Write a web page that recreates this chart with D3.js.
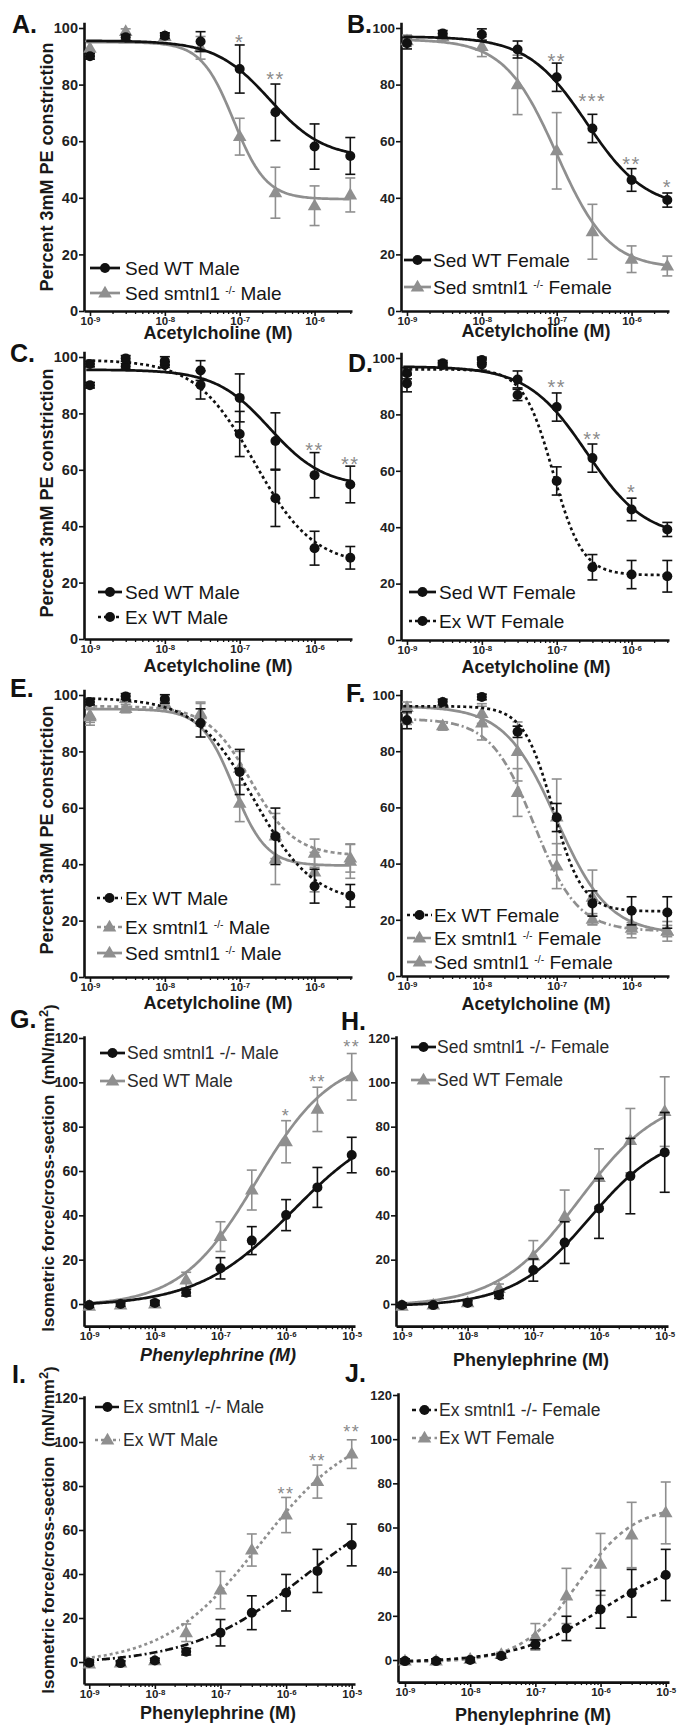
<!DOCTYPE html>
<html>
<head>
<meta charset="utf-8">
<script src="https://cdn.jsdelivr.net/npm/d3@7"></script>
<style>
  body { margin: 0; background: #fff; }
  svg { display: block; font-family: "Liberation Sans", Arial, sans-serif; }
</style>
</head>
<body>
<div id="chart"></div>
<script>
// doses and tick values
var achDoses = [1e-9, 3e-9, 1e-8, 3e-8, 1e-7, 3e-7, 1e-6, 3e-6];
var peDoses = [1e-9, 3e-9, 1e-8, 3e-8, 1e-7, 3e-7, 1e-6, 3e-6, 1e-5];
var achXTicks = [1e-9, 1e-8, 1e-7, 1e-6];
var peXTicks = [1e-9, 1e-8, 1e-7, 1e-6, 1e-5];
var achYTicks = [0, 20, 40, 60, 80, 100];
var peYTicks = [0, 20, 40, 60, 80, 100, 120];

// acetylcholine relaxation (percent of 3mM PE constriction), mean and SEM
var sedWTMale = [90, 96.7, 97.3, 95.2, 85.5, 70.2, 58.1, 54.8];
var sedWTMaleErr = [1, 1, 1, 3.5, 8.5, 10, 8, 6.5];
var sedKOMale = [92.8, 98.7, 97, 93, 61.6, 41.8, 37.2, 41];
var sedKOMaleErr = [2.5, 1, 1, 4, 6.5, 9, 7, 6];
var sedWTFemale = [94.6, 98.1, 97.7, 92.4, 82.6, 64.5, 46.3, 39.2];
var sedWTFemaleErr = [2, 1, 2, 3, 5, 5, 4, 2.5];
var sedKOFemale = [95.5, 96.9, 93.4, 79.9, 56.6, 28, 18.3, 15.9];
var sedKOFemaleErr = [2, 1, 3.5, 10.5, 13.5, 9.7, 4.7, 3.5];
var exWTMale = [97.5, 99.5, 98.6, 90.1, 72.7, 49.9, 32.2, 28.8];
var exWTMaleErr = [1, 1, 1.5, 5, 8, 10, 6, 4];
var exWTFemale = [91, 97.5, 99.3, 86.9, 56.4, 25.8, 23.2, 22.6];
var exWTFemaleErr = [3, 1, 1, 2, 5, 4.5, 5, 5.6];
var exKOMale = [92.3, 95.2, 96.5, 93.5, 74, 50, 43.9, 42.2];
var exKOMaleErr = [3, 1.5, 1, 4, 6, 8, 5, 5];
var exKOFemale = [91.5, 89, 90, 65.3, 39.1, 20.2, 17, 16];
var exKOFemaleErr = [2, 1.5, 6, 8.5, 8, 2, 2, 2];

// fitted curves: [start, end, logEC50, hill]
var sedWTMaleFit = [95.5, 54, -6.6, 1.2];
var sedKOMaleFit = [95, 39.5, -7.08, 2];
var sedWTFemaleFit = [97, 36, -6.6, 1.1];
var sedKOFemaleFit = [96, 15, -7.0, 1.25];
var exWTMaleFit = [99, 26, -6.8, 1.1];
var exWTFemaleFit = [96, 23, -7.05, 2.2];
var exKOMaleFit = [96, 43, -6.85, 1.5];
var exKOFemaleFit = [91.5, 16, -7.3, 1.5];

// phenylephrine force (mN/mm2)
var peSedKOMale = [-0.5, 0, 0.5, 5.1, 16.1, 28.6, 40.1, 52.6, 67.2];
var peSedKOMaleErr = [1, 1, 1, 1.5, 4.8, 6.3, 7, 9, 8];
var peSedWTMale = [-1, -0.5, 0, 10.8, 30.4, 51.4, 73.2, 87.8, 102.5];
var peSedWTMaleErr = [1, 1, 1, 3.5, 6.7, 9, 9.5, 10, 10.5];
var peSedKOFemale = [-0.5, -0.5, 0.5, 4, 15.3, 27.7, 43.1, 57.7, 68.4];
var peSedKOFemaleErr = [1, 1, 1, 1.5, 5, 9.4, 13.5, 17, 18];
var peSedWTFemale = [-1, -0.5, 0.5, 7, 21.6, 39.4, 57, 73.7, 86.8];
var peSedWTFemaleErr = [1, 1, 1, 2, 7, 12, 13, 14.5, 15.7];
var peExKOMale = [-0.3, -0.5, 0.7, 4.7, 13.3, 22.4, 31.5, 41.4, 53.2];
var peExKOMaleErr = [1, 1, 1, 1.5, 6, 7.7, 8.3, 9.8, 9.5];
var peExWTMale = [-1, -0.5, 0.5, 13.3, 32.7, 50.9, 66.8, 82, 94.5];
var peExWTMaleErr = [1, 1, 1, 4, 8.5, 7.3, 8, 7.5, 6.5];
var peExKOFemale = [-0.5, -0.5, 0, 1.8, 7.1, 14.3, 22.9, 30.2, 38.5];
var peExKOFemaleErr = [1, 1, 1, 1, 2, 5.5, 8.5, 10.8, 11.6];
var peExWTFemale = [-0.5, -0.5, 0.3, 2.5, 10.5, 29, 43.3, 56.6, 66.6];
var peExWTFemaleErr = [1, 1, 1, 1, 6, 12.5, 14, 14.8, 14];

var peSedKOMaleFit = [-1, 85, -5.9, 0.6];
var peSedWTMaleFit = [-1, 112, -6.45, 0.75];
var peSedKOFemaleFit = [-1, 78, -6.15, 0.75];
var peSedWTFemaleFit = [-1, 95, -6.3, 0.7];
var peExKOMaleFit = [-1, 80, -5.7, 0.5];
var peExWTMaleFit = [-1, 108, -6.4, 0.6];
var peExKOFemaleFit = [-1, 48, -5.95, 0.65];
var peExWTFemaleFit = [-1, 70, -6.35, 1.0];

// significance marks
var aStarDose = [1e-7, 3e-7], aStarText = ["*", "**"], aStarY = [96.5, 83.4];
var bStarDose = [1e-7, 3e-7, 1e-6, 3e-6], bStarText = ["**", "***", "**", "*"], bStarY = [89.8, 75.6, 53.4, 45.2];
var cStarDose = [1e-6, 3e-6], cStarText = ["**", "**"], cStarY = [68.4, 63.5];
var dStarDose = [1e-7, 3e-7, 1e-6], dStarText = ["**", "**", "*"], dStarY = [91.1, 72.7, 53.9];
var gStarDose = [1e-6, 3e-6, 1e-5], gStarText = ["*", "**", "**"], gStarY = [86.6, 101.9, 117.7];
var iStarDose = [1e-6, 3e-6, 1e-5], iStarText = ["**", "**", "**"], iStarY = [78.2, 93.2, 106.4];

var BLACK = "#111", GRAY = "#8f8f8f";
var sty = {
  kSolid: {c: BLACK, dash: null, m: "circle"},
  kDot: {c: BLACK, dash: "3,3", m: "circle"},
  kDashDot: {c: BLACK, dash: "8,3,2,3", m: "circle"},
  kDash: {c: BLACK, dash: "4,3.5", m: "circle"},
  gSolid: {c: GRAY, dash: null, m: "tri"},
  gDot: {c: GRAY, dash: "4,3", m: "tri"},
  gDashDot: {c: GRAY, dash: "8,3,2,3", m: "tri"},
  gDot2: {c: GRAY, dash: "3,3", m: "tri"},
  gDash: {c: GRAY, dash: "4,3.5", m: "tri"}
};

function ser(v, e, fit, doses, s, label) {
  return {v: v, e: e, fit: fit, doses: doses, s: s, label: label};
}

var achYTitle = "Percent 3mM PE constriction";
var achLeft = {x: [84, 352], lo: -9.08, hi: -5.5};
var achRight = {x: [401, 669], lo: -9.08, hi: -5.5};

var panels = [
  {letter: "A.", lp: [12, 33], xs: achLeft, y0: 311, yRefPx: 28, kind: "ach", tfs: 14.5,
   xt: [218, 339, "Acetylcholine (M)"], yt: [47, 167],
   series: [ser(sedKOMale, sedKOMaleErr, sedKOMaleFit, achDoses, sty.gSolid, "Sed smtnl1 |-/-| Male"),
            ser(sedWTMale, sedWTMaleErr, sedWTMaleFit, achDoses, sty.kSolid, "Sed WT Male")],
   legend: {sx: [90, 120], tx: 125, rows: [268, 293], order: [1, 0], fs: 19},
   stars: [aStarDose, aStarText, aStarY]},
  {letter: "B.", lp: [347, 33], xs: achRight, y0: 311, yRefPx: 28, kind: "ach", tfs: 13.5,
   xt: [536, 337, "Acetylcholine (M)"],
   series: [ser(sedKOFemale, sedKOFemaleErr, sedKOFemaleFit, achDoses, sty.gSolid, "Sed smtnl1 |-/-| Female"),
            ser(sedWTFemale, sedWTFemaleErr, sedWTFemaleFit, achDoses, sty.kSolid, "Sed WT Female")],
   legend: {sx: [404, 431], tx: 433, rows: [260, 287], order: [1, 0], fs: 19},
   stars: [bStarDose, bStarText, bStarY]},
  {letter: "C.", lp: [10, 362], xs: achLeft, y0: 639, yRefPx: 357, kind: "ach", tfs: 14.5,
   xt: [218, 672, "Acetylcholine (M)"], yt: [47, 493],
   series: [ser(sedWTMale, sedWTMaleErr, sedWTMaleFit, achDoses, sty.kSolid, "Sed WT Male"),
            ser(exWTMale, exWTMaleErr, exWTMaleFit, achDoses, sty.kDot, "Ex WT Male")],
   legend: {sx: [98, 122], tx: 125, rows: [592, 617], order: [0, 1], fs: 19},
   stars: [cStarDose, cStarText, cStarY]},
  {letter: "D.", lp: [348, 372], xs: achRight, y0: 640, yRefPx: 358, kind: "ach", tfs: 13.5,
   xt: [536, 673, "Acetylcholine (M)"],
   series: [ser(sedWTFemale, sedWTFemaleErr, sedWTFemaleFit, achDoses, sty.kSolid, "Sed WT Female"),
            ser(exWTFemale, exWTFemaleErr, exWTFemaleFit, achDoses, sty.kDot, "Ex WT Female")],
   legend: {sx: [409, 436], tx: 439, rows: [592, 621], order: [0, 1], fs: 19},
   stars: [dStarDose, dStarText, dStarY]},
  {letter: "E.", lp: [10, 697], xs: achLeft, y0: 977, yRefPx: 695, kind: "ach", tfs: 14.5,
   xt: [218, 1009, "Acetylcholine (M)"], yt: [47, 830],
   series: [ser(sedKOMale, sedKOMaleErr, sedKOMaleFit, achDoses, sty.gSolid, "Sed smtnl1 |-/-| Male"),
            ser(exKOMale, exKOMaleErr, exKOMaleFit, achDoses, sty.gDot, "Ex smtnl1 |-/-| Male"),
            ser(exWTMale, exWTMaleErr, exWTMaleFit, achDoses, sty.kDot, "Ex WT Male")],
   legend: {sx: [97, 122], tx: 125, rows: [898, 927, 953], order: [2, 1, 0], fs: 19}},
  {letter: "F.", lp: [346, 702], xs: achRight, y0: 976, yRefPx: 695, kind: "ach", tfs: 13.5,
   xt: [536, 1010, "Acetylcholine (M)"],
   series: [ser(sedKOFemale, sedKOFemaleErr, sedKOFemaleFit, achDoses, sty.gSolid, "Sed smtnl1 |-/-| Female"),
            ser(exKOFemale, exKOFemaleErr, exKOFemaleFit, achDoses, sty.gDashDot, "Ex smtnl1 |-/-| Female"),
            ser(exWTFemale, exWTFemaleErr, exWTFemaleFit, achDoses, sty.kDot, "Ex WT Female")],
   legend: {sx: [407, 432], tx: 434, rows: [915, 938, 962], order: [2, 1, 0], fs: 19}},
  {letter: "G.", lp: [10, 1028], xs: {x: [84, 355], lo: -9.08, hi: -4.95}, y0: 1304, yRefPx: 1038, kind: "pe", tfs: 14,
   xt: [218, 1361, "Phenylephrine (M)", true], yt: [48, 1168],
   series: [ser(peSedWTMale, peSedWTMaleErr, peSedWTMaleFit, peDoses, sty.gSolid, "Sed WT Male"),
            ser(peSedKOMale, peSedKOMaleErr, peSedKOMaleFit, peDoses, sty.kSolid, "Sed smtnl1 -/- Male")],
   legend: {sx: [100, 125], tx: 127, rows: [1053, 1081], order: [1, 0], fs: 17.5},
   stars: [gStarDose, gStarText, gStarY]},
  {letter: "H.", lp: [341, 1030], xs: {x: [396, 668], lo: -9.09, hi: -4.95}, y0: 1304, yRefPx: 1038, kind: "pe", tfs: 13,
   xt: [531, 1366, "Phenylephrine (M)"],
   series: [ser(peSedWTFemale, peSedWTFemaleErr, peSedWTFemaleFit, peDoses, sty.gSolid, "Sed WT Female"),
            ser(peSedKOFemale, peSedKOFemaleErr, peSedKOFemaleFit, peDoses, sty.kSolid, "Sed smtnl1 -/- Female")],
   legend: {sx: [411, 436], tx: 437, rows: [1047, 1080], order: [1, 0], fs: 17.5}},
  {letter: "I.", lp: [12, 1383], xs: {x: [84, 355], lo: -9.08, hi: -4.95}, y0: 1662, yRefPx: 1398, kind: "pe", tfs: 14,
   xt: [218, 1719, "Phenylephrine (M)"], yt: [48, 1530],
   series: [ser(peExWTMale, peExWTMaleErr, peExWTMaleFit, peDoses, sty.gDot2, "Ex WT Male"),
            ser(peExKOMale, peExKOMaleErr, peExKOMaleFit, peDoses, sty.kDashDot, "Ex smtnl1 -/- Male")],
   legend: {sx: [95, 120], tx: 123, rows: [1407, 1440], order: [1, 0], fs: 17.5},
   stars: [iStarDose, iStarText, iStarY]},
  {letter: "J.", lp: [345, 1382], xs: {x: [398, 669], lo: -9.107, hi: -4.95}, y0: 1660, yRefPx: 1395, kind: "pe", tfs: 13,
   xt: [533, 1721, "Phenylephrine (M)"],
   series: [ser(peExWTFemale, peExWTFemaleErr, peExWTFemaleFit, peDoses, sty.gDash, "Ex WT Female"),
            ser(peExKOFemale, peExKOFemaleErr, peExKOFemaleFit, peDoses, sty.kDash, "Ex smtnl1 -/- Female")],
   legend: {sx: [412, 437], tx: 439, rows: [1410, 1438], order: [1, 0], fs: 17.5}}
];

var svg = d3.select("#chart").append("svg")
  .attr("width", 679).attr("height", 1726);
svg.append("rect").attr("width", 679).attr("height", 1726).attr("fill", "#fff");

var tri = d3.symbol().type(d3.symbolTriangle).size(80);

function fitY(f, lx) {
  return f[0] + (f[1] - f[0]) / (1 + Math.pow(10, (f[2] - lx) * f[3]));
}

function marker(g, s, cx, cy) {
  if (s.m == "circle") {
    g.append("circle").attr("cx", cx).attr("cy", cy).attr("r", 5).attr("fill", s.c);
  } else {
    g.append("path").attr("d", tri).attr("fill", s.c)
      .attr("transform", "translate(" + cx + "," + (cy + 0.5) + ")");
  }
}

function drawPanel(p) {
  var g = svg.append("g");
  var ach = p.kind == "ach";
  var x = d3.scaleLog().domain([Math.pow(10, p.xs.lo), Math.pow(10, p.xs.hi)]).range(p.xs.x);
  var y = d3.scaleLinear().domain([0, ach ? 100 : 120]).range([p.y0, p.yRefPx]);
  var ext = ach ? [0, 102] : [-10, 121];
  var yAx = y.copy().domain(ext).range(ext.map(y));
  var xBase = y(ext[0]);

  // y axis
  var gy = g.append("g").attr("transform", "translate(" + p.xs.x[0] + ",0)")
    .call(d3.axisLeft(yAx).tickValues(ach ? achYTicks : peYTicks).tickSize(5).tickSizeOuter(0).tickPadding(1));
  gy.select(".domain").attr("stroke", BLACK).attr("stroke-width", 2.6);
  gy.selectAll(".tick line").attr("stroke", BLACK).attr("stroke-width", 1.6);
  gy.selectAll(".tick text").attr("font-size", p.tfs).attr("font-weight", "bold")
    .attr("fill", "#222").attr("font-family", "Liberation Sans, Arial, sans-serif");

  // x axis: minor then major ticks
  var minor = [];
  for (var d = -9; d < p.xs.hi; d++) {
    for (var m = 2; m <= 9; m++) {
      var v = m * Math.pow(10, d);
      if (Math.log10(v) <= p.xs.hi) minor.push(v);
    }
  }
  var gxm = g.append("g").attr("transform", "translate(0," + xBase + ")")
    .call(d3.axisBottom(x).tickValues(minor).tickSize(3).tickSizeOuter(0).tickFormat(""));
  gxm.select(".domain").remove();
  gxm.selectAll("text").remove();
  gxm.selectAll(".tick line").attr("stroke", BLACK).attr("stroke-width", 1.3);
  var gx = g.append("g").attr("transform", "translate(0," + xBase + ")")
    .call(d3.axisBottom(x).tickValues(ach ? achXTicks : peXTicks).tickSize(5).tickSizeOuter(0).tickPadding(1));
  gx.select(".domain").attr("stroke", BLACK).attr("stroke-width", 2.6);
  gx.selectAll(".tick line").attr("stroke", BLACK).attr("stroke-width", 1.6);
  gx.selectAll(".tick text").attr("font-size", 11.5).attr("font-weight", "bold").attr("fill", "#222")
    .attr("font-family", "Liberation Sans, Arial, sans-serif")
    .each(function (v) {
      var e = Math.round(Math.log10(v));
      var t = d3.select(this).text("");
      t.append("tspan").text("10");
      t.append("tspan").attr("dy", "-0.45em").attr("font-size", "0.68em").text("-" + Math.abs(e));
    });

  // titles
  var xt = g.append("text").attr("x", p.xt[0]).attr("y", p.xt[1]).attr("text-anchor", "middle")
    .attr("font-size", 18).attr("font-weight", "bold").attr("fill", "#1a1a1a").text(p.xt[2]);
  if (p.xt[3]) xt.attr("font-style", "italic");
  if (p.yt) {
    var yt = g.append("text").attr("transform", "translate(" + p.yt[0] + "," + p.yt[1] + ") rotate(-90)")
      .attr("text-anchor", "middle").attr("dy", "0.35em").attr("font-weight", "bold").attr("fill", "#1a1a1a");
    if (ach) {
      yt.attr("font-size", 18).text(achYTitle);
    } else {
      yt.attr("font-size", 17);
      yt.append("tspan").text("Isometric force/cross-section\u00a0\u00a0(mN/mm");
      yt.append("tspan").attr("dy", "-0.5em").attr("font-size", "0.75em").text("2");
      yt.append("tspan").attr("dy", "0.5em").text(")");
    }
  }
  g.append("text").attr("x", p.lp[0]).attr("y", p.lp[1]).attr("font-size", 25)
    .attr("font-weight", "bold").attr("fill", "#111").text(p.letter);

  // series
  p.series.forEach(function (s) {
    var pts = d3.range(Math.log10(s.doses[0]) - 0.05, Math.log10(s.doses[s.doses.length - 1]) + 0.001, 0.02);
    g.append("path")
      .attr("d", d3.line().x(function (lx) { return x(Math.pow(10, lx)); })
        .y(function (lx) { return y(fitY(s.fit, lx)); })(pts))
      .attr("fill", "none").attr("stroke", s.s.c).attr("stroke-width", 2.7)
      .attr("stroke-dasharray", s.s.dash);
    s.v.forEach(function (v, i) {
      var cx = x(s.doses[i]);
      var e = s.e[i];
      var eg = g.append("g").attr("stroke", s.s.c).attr("stroke-width", 1.6);
      eg.append("line").attr("x1", cx).attr("x2", cx).attr("y1", y(v - e)).attr("y2", y(v + e));
      eg.append("line").attr("x1", cx - 5).attr("x2", cx + 5).attr("y1", y(v - e)).attr("y2", y(v - e));
      eg.append("line").attr("x1", cx - 5).attr("x2", cx + 5).attr("y1", y(v + e)).attr("y2", y(v + e));
      marker(g, s.s, cx, y(v));
    });
  });

  // stars
  if (p.stars) {
    p.stars[0].forEach(function (d, i) {
      g.append("text").attr("x", x(d)).attr("y", y(p.stars[2][i])).attr("dy", "0.55em")
        .attr("text-anchor", "middle").attr("font-size", ach ? 20 : 18).attr("letter-spacing", 1.5)
        .attr("fill", "#8a8a8a").text(p.stars[1][i]);
    });
  }

  // legend: each piece of a label is its own text, placed after the previous one
  var L = p.legend;
  L.order.forEach(function (si, r) {
    var s = p.series[si];
    var ry = L.rows[r];
    g.append("line").attr("x1", L.sx[0]).attr("x2", L.sx[1]).attr("y1", ry).attr("y2", ry)
      .attr("stroke", s.s.c).attr("stroke-width", 2.7).attr("stroke-dasharray", s.s.dash);
    marker(g, s.s, (L.sx[0] + L.sx[1]) / 2, ry);
    var cx = L.tx;
    s.label.split("|").forEach(function (part, k) {
      var sup = k % 2 == 1;
      var txt = sup ? part : part.replace(/^ /, "\u00a0").replace(/ $/, "\u00a0");
      var t = g.append("text").attr("x", cx)
        .attr("y", sup ? ry + 1 : ry + L.fs * 0.36)
        .attr("font-size", sup ? L.fs * 0.55 : L.fs)
        .attr("fill", ach ? "#151515" : "#2a2a2a").text(txt);
      cx += t.node().getComputedTextLength();
    });
  });
}

panels.forEach(drawPanel);
</script>
</body>
</html>
